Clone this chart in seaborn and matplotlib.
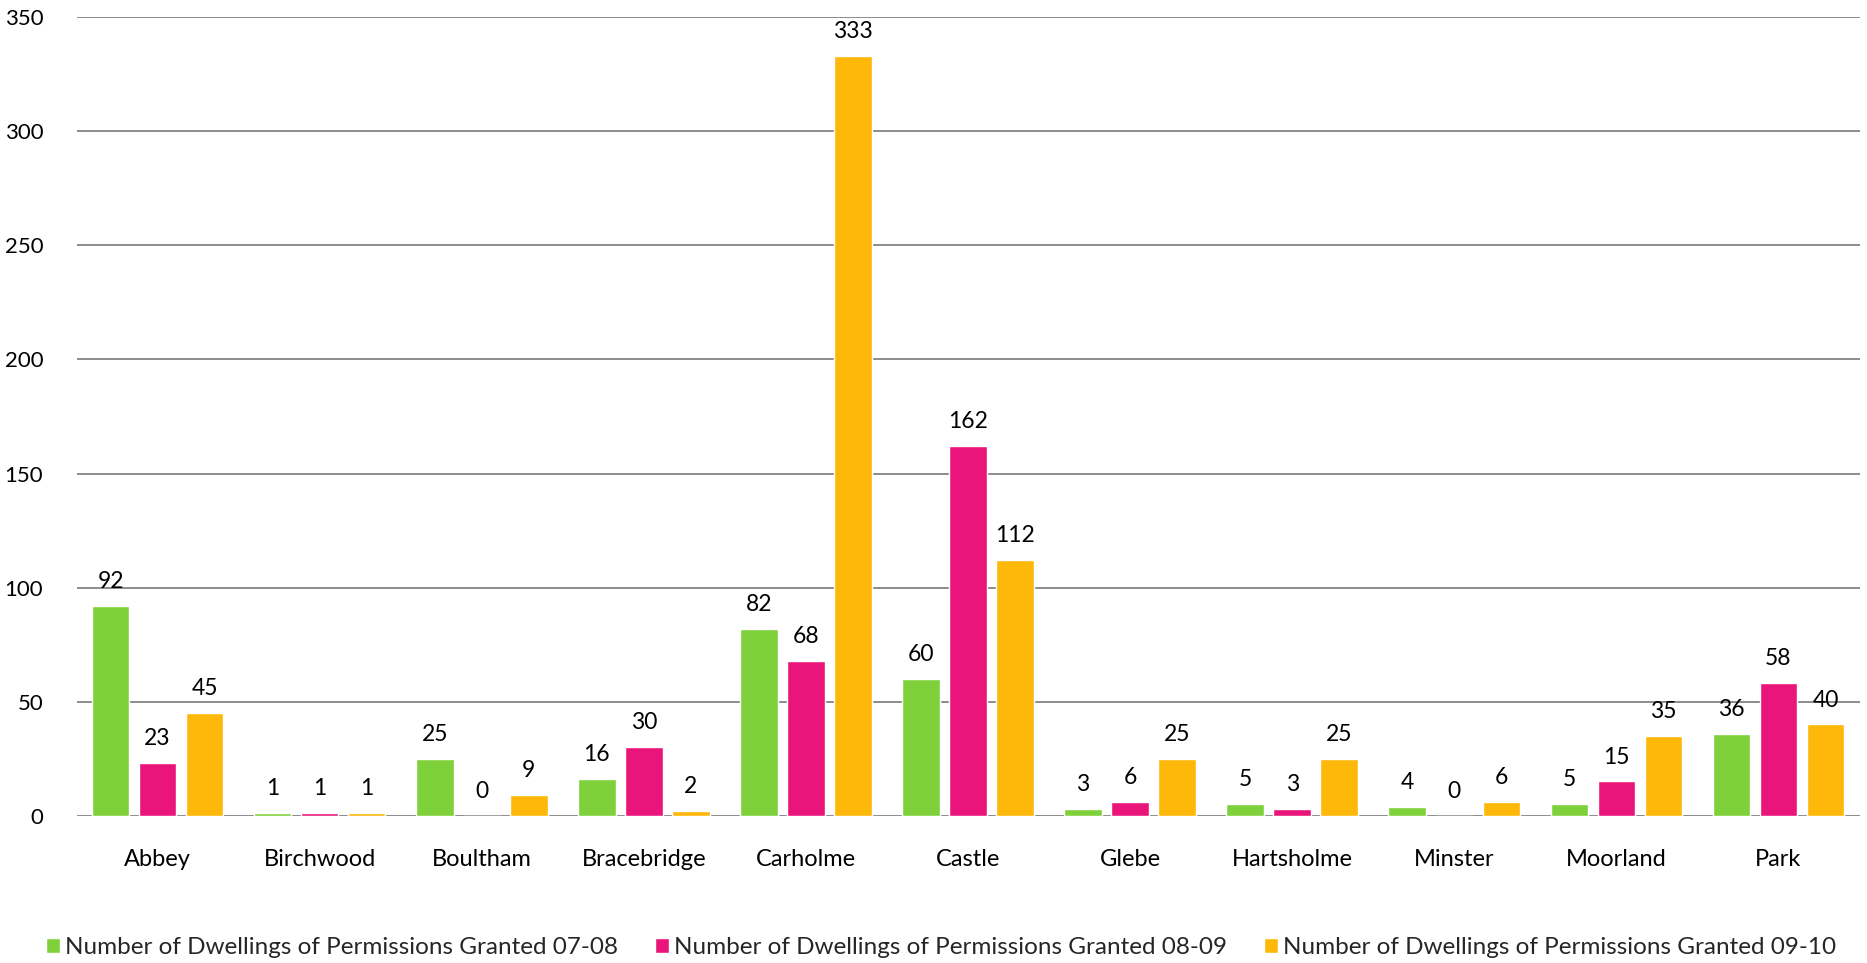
import pandas as pd
import matplotlib.pyplot as plt
import seaborn as sns

# Data
wards = ["Abbey", "Birchwood", "Boultham", "Bracebridge", "Carholme", "Castle",
         "Glebe", "Hartsholme", "Minster", "Moorland", "Park"]
granted_0708 = [92, 1, 25, 16, 82, 60, 3, 5, 4, 5, 36]
granted_0809 = [23, 1, 0, 30, 68, 162, 6, 3, 0, 15, 58]
granted_0910 = [45, 1, 9, 2, 333, 112, 25, 25, 6, 35, 40]
series_names = ["Number of Dwellings of Permissions Granted 07-08",
                "Number of Dwellings of Permissions Granted 08-09",
                "Number of Dwellings of Permissions Granted 09-10"]
colors = ["#7FD13B", "#EA157A", "#FEB80A"]

df = pd.DataFrame({
    "Ward": wards * 3,
    "Dwellings": granted_0708 + granted_0809 + granted_0910,
    "Series": [series_names[0]] * len(wards) + [series_names[1]] * len(wards)
              + [series_names[2]] * len(wards),
})

sns.set_style("white")
plt.rcParams["font.family"] = ["Lato", "DejaVu Sans"]

fig = plt.figure(figsize=(18.67, 9.63), dpi=100)
ax = fig.add_axes([0.041, 0.153, 0.955, 0.829])

sns.barplot(data=df, x="Ward", y="Dwellings", hue="Series", hue_order=series_names,
            palette=colors, width=0.87, gap=0.2, saturation=1, ax=ax,
            errorbar=None, legend=True)

for c in ax.containers:
    ax.bar_label(c, fmt="%d", padding=10, fontsize=16.5, color="#000000")

ax.set_ylim(0, 350)
ax.set_xlim(-0.5, len(wards) - 0.5)
ax.set_yticks(range(0, 351, 50))
ax.yaxis.grid(True, color="#8C8C8C", linewidth=1.4)
ax.set_axisbelow(True)
for s in ax.spines.values():
    s.set_visible(False)
ax.tick_params(axis="both", length=0, colors="#000000")
ax.tick_params(axis="x", pad=24, labelsize=17)
ax.tick_params(axis="y", pad=24, labelsize=16)
ax.set_xlabel("")
ax.set_ylabel("")

# legend along the bottom
handles, labels = ax.get_legend_handles_labels()
ax.get_legend().remove()
fig.legend(handles, labels, loc="center", bbox_to_anchor=(0.504, 0.016), ncol=3,
           frameon=False, fontsize=17.5, handlelength=0.6, handleheight=0.6,
           handletextpad=0.2, columnspacing=1.5, borderaxespad=0)

plt.savefig("out.png", dpi=100)
